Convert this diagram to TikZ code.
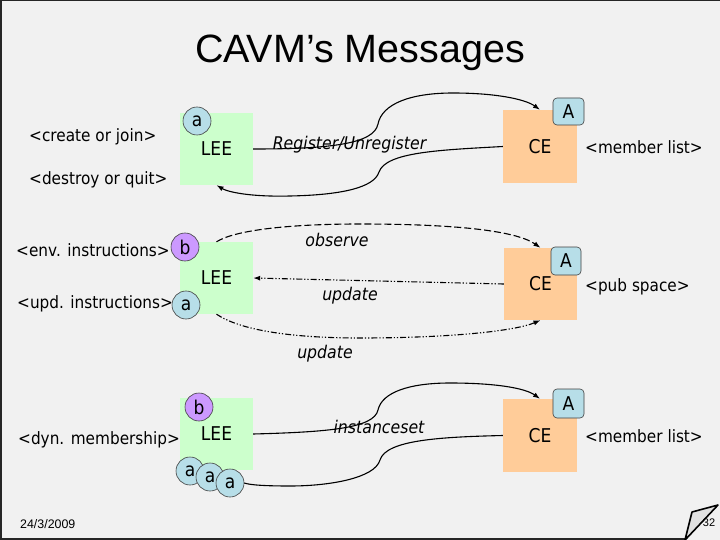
\documentclass[tikz,border=0pt]{standalone}
\usepackage{fontspec}
\setmainfont{DejaVu Sans}[FakeStretch=0.9]
\newfontfamily\arialf{Liberation Sans}
\usetikzlibrary{arrows.meta,calc}
\definecolor{bgc}{RGB}{241,241,241}
\definecolor{leec}{RGB}{204,255,204}
\definecolor{cec}{RGB}{255,204,153}
\definecolor{bluec}{RGB}{183,222,232}
\definecolor{purc}{RGB}{204,153,255}
\tikzset{
  txt/.style={font=\fontsize{17}{20}\selectfont},
  big/.style={font=\fontsize{19}{22}\selectfont},
  leebox/.style={big, fill=leec, minimum width=73pt, minimum height=72pt, inner sep=0pt},
  cebox/.style={big, fill=cec, minimum width=74pt, minimum height=73pt, inner sep=0pt},
  acirc/.style={big, circle, draw=black!75, fill=bluec, line width=0.6pt, minimum size=28pt, inner sep=0pt},
  bcirc/.style={acirc, fill=purc},
  abox/.style={big, rounded corners=4pt, draw=black!75, fill=bluec, line width=0.6pt, minimum width=31pt, minimum height=27pt, inner sep=0pt},
  lbl/.style={txt, anchor=west, inner sep=0pt},
  msg/.style={font=\itshape\fontsize{17.5}{20}\selectfont, inner sep=0pt},
  conn/.style={line width=1.1pt, -{Latex[length=7pt,width=5pt]}},
  plain/.style={line width=1.1pt},
  obs/.style={dash pattern=on 7pt off 3pt},
  ddot/.style={dash pattern=on 6pt off 2pt on 1.2pt off 2pt on 1.2pt off 2pt},
}
\begin{document}
\begin{tikzpicture}[x=1pt,y=-1pt]
\useasboundingbox (0,0) rectangle (720,540);
\fill[bgc] (0,0) rectangle (720,540);

% title
\node[font=\arialf\fontsize{39.5}{44}\selectfont, anchor=base] (title) at (360,63) {CAVM’s Messages};

% ---------- row 1 ----------
\node[leebox] (lee1) at (216.5,149) {LEE};
\node[acirc] (a1) at (197,121) {a};
\node[cebox] (ce1) at (540,146.5) {CE};
\node[abox] (A1) at (568.5,111.5) {A};
\node[lbl] (t1) at (29,137) {<create or join>};
\node[lbl] (t2) at (29,180) {<destroy or quit>};
\node[lbl] (t6) at (585,147) {<member list>};
\draw[conn] (lee1.east) .. controls (330,149) and (374,144) .. (378,124)
  .. controls (382,104) and (410,93) .. (453,93)
  .. controls (495,93) and (525,99) .. (ce1.north);
\draw[conn] (ce1.west) .. controls (440,150) and (386,152) .. (379,172)
  .. controls (374,188) and (340,195) .. (290,196)
  .. controls (250,197) and (228,192) .. (lee1.south);
\node[msg] (m1) at (349.5,145) {Register/Unregister};

% ---------- row 2 ----------
\node[leebox] (lee2) at (216.5,278) {LEE};
\node[bcirc] (b2) at (185,247) {b};
\node[acirc] (a2) at (186,305) {a};
\node[cebox, minimum width=73pt, minimum height=72pt] (ce2) at (540.5,284) {CE};
\node[abox, minimum width=30pt, minimum height=28pt] (A2) at (566,261) {A};
\node[lbl] (t3) at (16,250) {<env. instructions>};
\node[lbl] (t4) at (17,304) {<upd. instructions>};
\node[lbl] (t7) at (585,287) {<pub space>};
\draw[conn, obs] (lee2.north) .. controls (235,230) and (290,224) .. (360,224)
  .. controls (450,224) and (515,230) .. (ce2.north);
\draw[conn, ddot] (ce2.west) -- (lee2.east);
\draw[conn, ddot] (lee2.south) .. controls (240,330) and (290,338) .. (360,338)
  .. controls (450,338) and (515,331) .. (ce2.south);
\node[msg] (m2) at (337,240) {observe};
\node[msg] (m3) at (350,296) {update};
\node[msg] (m4) at (325,354) {update};

% ---------- row 3 ----------
\node[leebox] (lee3) at (216.5,434) {LEE};
\node[bcirc] (b3) at (199,407) {b};
\node[acirc] (a3a) at (190,471) {a};
\node[acirc] (a3b) at (210,477) {a};
\node[acirc] (a3c) at (230,483) {a};
\node[cebox] (ce3) at (540,435.5) {CE};
\node[abox, minimum height=29pt] (A3) at (568.5,403.5) {A};
\node[lbl] (t5) at (18,440) {<dyn. membership>};
\node[lbl] (t8) at (585,436) {<member list>};
\draw[conn] (lee3.east) .. controls (330,432) and (374,428) .. (378,410)
  .. controls (382,392) and (410,383) .. (450,383)
  .. controls (495,383) and (525,388) .. (ce3.north);
\draw[plain] (ce3.west) .. controls (440,437) and (386,440) .. (380,460)
  .. controls (375,478) and (330,486) .. (290,486)
  .. controls (265,486) and (250,485) .. (a3c.east);
\node[msg] (m5) at (379,427) {instanceset};

% ---------- footer ----------
\node[font=\arialf\fontsize{12.4}{14}\selectfont, anchor=base west, inner sep=0pt] (date) at (20,528) {24/3/2009};
\draw[line width=1.5pt, black!85] (720,0.6) -- (0.8,0.6) -- (0.8,538.8) -- (685,538.8);
\coordinate (f1) at (685,540);
\coordinate (f2) at (692,512);
\coordinate (f3) at (718,505);
\fill[black!12] (f1) -- (f2) -- (f3) -- cycle;
\node[font=\arialf\fontsize{11}{13}\selectfont, inner sep=0pt] (pg) at (709,523) {32};
\draw[line width=1.6pt, line join=round] (f1) -- (f2) -- (f3) -- cycle;
\end{tikzpicture}
\end{document}
